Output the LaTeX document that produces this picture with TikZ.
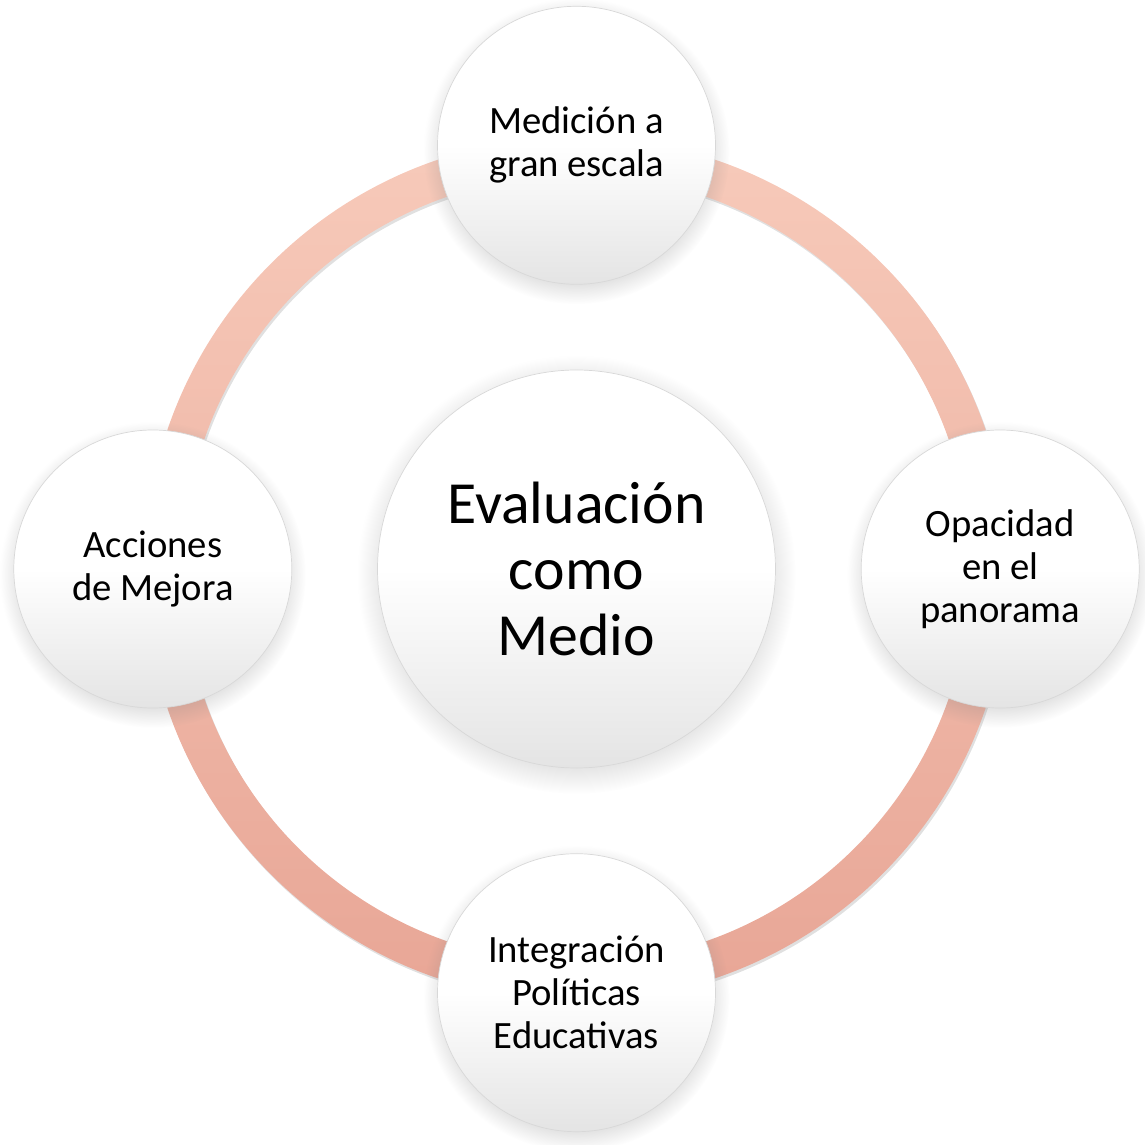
\documentclass[tikz,border=0pt]{standalone}
\usepackage{fontspec}
\setmainfont{Carlito}
\usetikzlibrary{shadows,positioning}
\definecolor{ringtop}{RGB}{247,202,186}
\definecolor{ringbot}{RGB}{232,166,150}
\definecolor{discbot}{RGB}{228,228,228}
\definecolor{discline}{RGB}{216,216,216}
\tikzset{
  disc/.style ={circle, draw=discline, line width=0.4pt, inner sep=0pt, align=center,
    top color=white, bottom color=discbot, middle color=white,
    circular drop shadow={shadow xshift=0pt, shadow yshift=-3pt, opacity=0.25}},
  big/.style  ={disc, minimum size=7.96cm, font=\fontsize{34}{37.8}\selectfont},
  sat/.style  ={disc, minimum size=5.56cm, font=\fontsize{22}{24.5}\selectfont},
  ringshadow/.style ={fill=black, opacity=0.12, even odd rule},
}

\begin{document}
\begin{tikzpicture}
  \useasboundingbox (-11.53,-11.52) rectangle (11.37,11.38);
  \fill[ringshadow] (0.03,-0.05) circle (8.64) (0.03,-0.05) circle (7.88);
  \shade[top color=ringtop, bottom color=ringbot, even odd rule]
    (0,0) circle (8.64) (0,0) circle (7.88);
  \node[big] (eval) at (0,0) {Evaluación\\como\\Medio};
  \node[sat, above=1.7cm of eval] (medicion) {Medición a\\gran escala};
  \node[sat, right=1.7cm of eval] (opacidad) {Opacidad\\en el\\panorama};
  \node[sat, below=1.7cm of eval] (integracion) {Integración\\Políticas\\Educativas};
  \node[sat, left=1.7cm of eval] (acciones) {Acciones\\de Mejora};
\end{tikzpicture}
\end{document}
